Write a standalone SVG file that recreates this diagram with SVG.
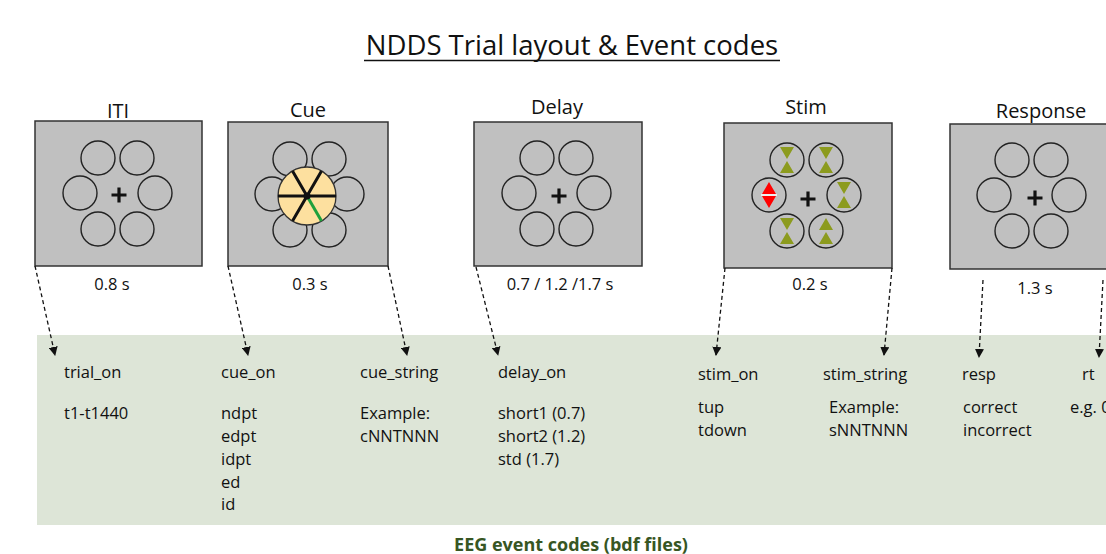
<svg xmlns="http://www.w3.org/2000/svg" width="1106" height="554" viewBox="0 0 1106 554">
<style>
text{font-family:"Open Sans","Noto Sans","Liberation Sans",sans-serif;fill:#111}
.title{font-size:27.5px;text-anchor:middle}
.lbl{font-size:20px;text-anchor:middle}
.dur{font-size:16.5px;text-anchor:middle}
.code{font-size:16.5px}
.screen{fill:#c0c0c0;stroke:#333;stroke-width:1.5}
.ring{fill:none;stroke:#222;stroke-width:1.4}
.cross{stroke:#111;stroke-width:3.2;fill:none}
.conn{stroke:#111;stroke-width:1.3;stroke-dasharray:4 3;fill:none}
.tri{fill:#8c9b1e}
.foot{font-size:18px;font-weight:bold;fill:#375623;text-anchor:middle}
</style>
<defs>
<marker id="ah" viewBox="0 0 10 10" refX="9" refY="5" markerWidth="9" markerHeight="9" markerUnits="userSpaceOnUse" orient="auto">
<path d="M0,0 L10,5 L0,10 z" fill="#111"/>
</marker>
<g id="ring6">
<circle class="ring" cx="-20" cy="-36" r="17"/>
<circle class="ring" cx="19" cy="-36" r="17"/>
<circle class="ring" cx="-38" cy="-1" r="17"/>
<circle class="ring" cx="37" cy="-1" r="17"/>
<circle class="ring" cx="-20" cy="35" r="17"/>
<circle class="ring" cx="19" cy="35" r="17"/>
</g>
<path id="plus" class="cross" d="M-7.5,0 H7.5 M0,-7.5 V7.5"/>
<g id="hg"><path class="tri" d="M-7,-13 H7 L0,-1 z M0,1 L7,13 H-7 z"/></g>
<g id="up2"><path class="tri" d="M0,-13 L7,-1 H-7 z M0,1 L7,13 H-7 z"/></g>
</defs>

<rect width="1106" height="554" fill="#fff"/>

<g id="title">
<text class="title" x="572" y="55">NDDS Trial layout &amp; Event codes</text>
<line x1="364" y1="60.5" x2="780" y2="60.5" stroke="#111" stroke-width="1.6"/>
</g>

<g id="band">
<rect x="37" y="335" width="1069" height="190" fill="#dde5d7"/>
<text class="foot" x="571" y="551">EEG event codes (bdf files)</text>
</g>

<g id="iti">
<text class="lbl" x="118" y="118">ITI</text>
<rect class="screen" x="35" y="121" width="167" height="145"/>
<use href="#ring6" x="118" y="194"/>
<use href="#plus" x="119" y="195"/>
<text class="dur" x="112" y="290">0.8 s</text>
</g>

<g id="cue">
<text class="lbl" x="308" y="117">Cue</text>
<rect class="screen" x="228" y="122" width="160" height="144"/>
<use href="#ring6" x="310" y="195"/>
<circle cx="307" cy="196" r="29" fill="#fde09f" stroke="#333" stroke-width="1.3"/>
<path d="M278,196 H336 M307,196 L292.5,171 M307,196 L321.5,171 M307,196 L292.5,221" stroke="#111" stroke-width="3" fill="none"/>
<path d="M307,196 L321.5,221" stroke="#1fa03c" stroke-width="3"/>
<circle cx="307" cy="196" r="3.5" fill="#111"/>
<text class="dur" x="310" y="290">0.3 s</text>
</g>

<g id="delay">
<text class="lbl" x="557" y="114">Delay</text>
<rect class="screen" x="474" y="122" width="168" height="144"/>
<use href="#ring6" x="557" y="194"/>
<use href="#plus" x="559" y="196"/>
<text class="dur" x="560" y="290">0.7 / 1.2 /1.7 s</text>
</g>

<g id="stim">
<text class="lbl" x="806" y="114">Stim</text>
<rect class="screen" x="724" y="123" width="168" height="145"/>
<use href="#ring6" x="807" y="196"/>
<use href="#plus" x="808" y="199"/>
<use href="#hg" x="787" y="160"/>
<use href="#hg" x="826" y="160"/>
<use href="#hg" x="844" y="195"/>
<use href="#hg" x="787" y="231"/>
<use href="#up2" x="826" y="231"/>
<path d="M769,182 L776,194 H762 z M762,196 H776 L769,208 z" fill="#f00"/>
<line x1="761" y1="195" x2="777" y2="195" stroke="#fff" stroke-width="1.5"/>
<text class="dur" x="810" y="290">0.2 s</text>
</g>

<g id="response">
<text class="lbl" x="1041" y="118">Response</text>
<rect class="screen" x="950" y="124" width="170" height="145"/>
<use href="#ring6" x="1032" y="196"/>
<use href="#plus" x="1035" y="198"/>
<text class="dur" x="1035" y="294">1.3 s</text>
</g>

<g id="connectors">
<line class="conn" x1="35" y1="266" x2="55" y2="355" marker-end="url(#ah)"/>
<line class="conn" x1="228" y1="266" x2="248" y2="355" marker-end="url(#ah)"/>
<line class="conn" x1="388" y1="266" x2="407" y2="355" marker-end="url(#ah)"/>
<line class="conn" x1="476" y1="267" x2="498" y2="355" marker-end="url(#ah)"/>
<line class="conn" x1="725" y1="268" x2="716" y2="355" marker-end="url(#ah)"/>
<line class="conn" x1="892" y1="268" x2="884" y2="355" marker-end="url(#ah)"/>
<line class="conn" x1="983" y1="280" x2="979" y2="357" marker-end="url(#ah)"/>
<line class="conn" x1="1103" y1="280" x2="1099" y2="357" marker-end="url(#ah)"/>
</g>

<g id="codes">
<text class="code" x="64" y="378">trial_on</text>
<text class="code" x="64" y="419">t1-t1440</text>
<text class="code" x="221" y="378">cue_on</text>
<text class="code" x="221" y="419">ndpt</text>
<text class="code" x="221" y="442">edpt</text>
<text class="code" x="221" y="465">idpt</text>
<text class="code" x="221" y="488">ed</text>
<text class="code" x="221" y="510">id</text>
<text class="code" x="360" y="378">cue_string</text>
<text class="code" x="360" y="419">Example:</text>
<text class="code" x="360" y="442">cNNTNNN</text>
<text class="code" x="498" y="378">delay_on</text>
<text class="code" x="498" y="419">short1 (0.7)</text>
<text class="code" x="498" y="442">short2 (1.2)</text>
<text class="code" x="498" y="465">std (1.7)</text>
<text class="code" x="698" y="380">stim_on</text>
<text class="code" x="698" y="413">tup</text>
<text class="code" x="698" y="436">tdown</text>
<text class="code" x="823" y="380">stim_string</text>
<text class="code" x="829" y="413">Example:</text>
<text class="code" x="829" y="436">sNNTNNN</text>
<text class="code" x="962" y="380">resp</text>
<text class="code" x="963" y="413">correct</text>
<text class="code" x="963" y="436">incorrect</text>
<text class="code" x="1082" y="380">rt</text>
<text class="code" x="1070" y="413">e.g. 0</text>
</g>
</svg>
